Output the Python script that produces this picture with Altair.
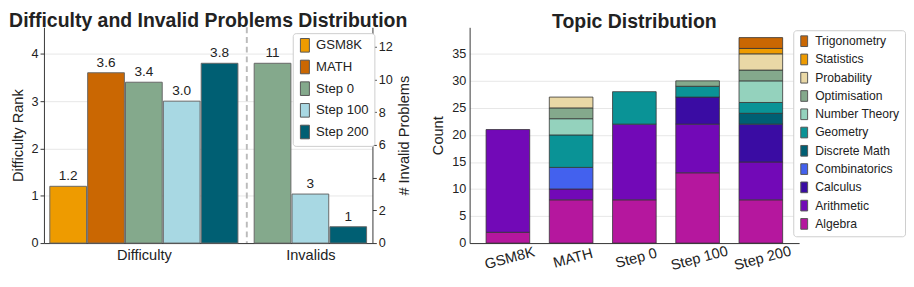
import altair as alt
import pandas as pd

# ---------------- data ----------------
models = ["GSM8K", "MATH", "Step 0", "Step 100", "Step 200"]
model_colors = ["#EE9B00", "#CA6702", "#84A98C", "#A8D8E3", "#005F73"]
difficulty = [1.2, 3.6, 3.4, 3.0, 3.8]
invalid_models = ["Step 0", "Step 100", "Step 200"]
invalid_counts = [11, 3, 1]
group_labels = ["Difficulty", "Invalids"]

topics = ["Algebra", "Arithmetic", "Calculus", "Combinatorics", "Discrete Math",
          "Geometry", "Number Theory", "Optimisation", "Probability",
          "Statistics", "Trigonometry"]
topic_colors = ["#B5179E", "#7209B7", "#3A0CA3", "#4361EE", "#005F73",
                "#0A9396", "#94D2BD", "#84A98C", "#E9D8A6", "#EE9B00", "#CA6702"]
algebra = [2, 8, 8, 13, 8]
arithmetic = [19, 2, 14, 9, 7]
calculus = [0, 0, 0, 5, 7]
combinatorics = [0, 4, 0, 0, 0]
discrete_math = [0, 0, 0, 0, 2]
geometry = [0, 6, 6, 2, 2]
number_theory = [0, 3, 0, 0, 4]
optimisation = [0, 2, 0, 1, 2]
probability = [0, 2, 0, 0, 3]
statistics = [0, 0, 0, 0, 1]
trigonometry = [0, 0, 0, 0, 2]
topic_counts = [algebra, arithmetic, calculus, combinatorics, discrete_math,
                geometry, number_theory, optimisation, probability,
                statistics, trigonometry]

FONT = "Liberation Sans"
TXT = "#222222"

# ---------------- layout (bar-step units) ----------------
INV_CENTER = 4.4
DASH_POS = 2.72
HALF = 0.485
X_DOMAIN = [-2.64, 6.04]

diff_df = pd.DataFrame({"model": models, "value": difficulty,
                        "pos": [i - 2 for i in range(len(models))]})
inv_df = pd.DataFrame({"model": invalid_models, "value": invalid_counts,
                       "pos": [INV_CENTER + i - 1 for i in range(len(invalid_models))]})

xscale = alt.Scale(domain=X_DOMAIN, nice=False, zero=False)
xaxis = alt.Axis(values=[0, INV_CENTER],
                 labelExpr="datum.value < 2 ? 'Difficulty' : 'Invalids'",
                 title=None, grid=False, ticks=False, labelFontSize=15,
                 labelPadding=5, domainColor="#333", labelColor=TXT)

yl_scale = alt.Scale(domain=[0, 4.56], nice=False)
yl_axis = alt.Axis(values=[0, 1, 2, 3, 4], title="Difficulty Rank", orient="left",
                   grid=True, gridColor="#e6e6e6", tickSize=4, labelFontSize=13,
                   titleFontSize=15, titleFontWeight="normal", titlePadding=6)
yr_scale = alt.Scale(domain=[0, 13.2], nice=False)
yr_axis = alt.Axis(values=[0, 2, 4, 6, 8, 10, 12], title="# Invalid Problems",
                   orient="right", grid=False, tickSize=4, labelFontSize=13,
                   titleFontSize=15, titleFontWeight="normal", titleAngle=270,
                   titleBaseline="top", titlePadding=5)

color_models = alt.Color(
    "model:N",
    scale=alt.Scale(domain=models, range=model_colors),
    legend=alt.Legend(orient="none", legendX=256, legendY=6, title=None,
                      fillColor="white", strokeColor="#cccccc", cornerRadius=3,
                      padding=5, labelFontSize=13.5, labelColor=TXT,
                      symbolType="M-0.66,-1H0.66V1H-0.66Z", symbolSize=196,
                      symbolStrokeColor="#555", symbolStrokeWidth=1,
                      rowPadding=3.3, labelOffset=4),
)

base_d = alt.Chart(diff_df).transform_calculate(
    x0=f"datum.pos - {HALF}", x1=f"datum.pos + {HALF}", base="0")
bars_d = base_d.mark_bar(stroke="#666", strokeWidth=1).encode(
    x=alt.X("x0:Q", scale=xscale, axis=xaxis), x2="x1:Q",
    y=alt.Y("value:Q", scale=yl_scale, axis=yl_axis), y2="base:Q",
    color=color_models)
text_d = base_d.mark_text(baseline="bottom", dy=-3, fontSize=14, color=TXT).encode(
    x=alt.X("pos:Q", scale=xscale, axis=xaxis),
    y=alt.Y("value:Q", scale=yl_scale, axis=yl_axis),
    text=alt.Text("value:Q", format=".1f"))

base_i = alt.Chart(inv_df).transform_calculate(
    x0=f"datum.pos - {HALF}", x1=f"datum.pos + {HALF}", base="0")
bars_i = base_i.mark_bar(stroke="#666", strokeWidth=1).encode(
    x=alt.X("x0:Q", scale=xscale, axis=xaxis), x2="x1:Q",
    y=alt.Y("value:Q", scale=yr_scale, axis=yr_axis), y2="base:Q",
    color=color_models)
text_i = base_i.mark_text(baseline="bottom", dy=-3, fontSize=14, color=TXT).encode(
    x=alt.X("pos:Q", scale=xscale, axis=xaxis),
    y=alt.Y("value:Q", scale=yr_scale, axis=yr_axis),
    text=alt.Text("value:Q", format="d"))

rule = alt.Chart(pd.DataFrame({"k": [0]})).mark_rule(
    color="#bbbbbb", strokeWidth=2, strokeDash=[6, 4]).encode(
    x=alt.datum(DASH_POS, scale=xscale, axis=xaxis))

left = alt.layer(rule, alt.layer(bars_d, text_d), alt.layer(bars_i, text_i)).resolve_scale(
    y="independent").properties(
    width=338, height=222,
    title=alt.Title("Difficulty and Invalid Problems Distribution", fontSize=20,
                    fontWeight="bold", color=TXT, anchor="middle", offset=-5, font=FONT))

# ---------------- right chart ----------------
rows = []
for ti, (topic, counts) in enumerate(zip(topics, topic_counts)):
    for m, c in zip(models, counts):
        if c > 0:
            rows.append({"model": m, "topic": topic, "count": c, "order": ti})
topic_df = pd.DataFrame(rows)

right = alt.Chart(topic_df).mark_bar(stroke="#333", strokeWidth=0.8).encode(
    x=alt.X("model:N", sort=models,
            scale=alt.Scale(paddingInner=0.31, paddingOuter=0.26),
            axis=alt.Axis(title=None, labelAngle=-15, labelAlign="center",
                          labelBaseline="top", labelFontSize=15, ticks=False,
                          labelPadding=8, domainColor="#333", labelColor=TXT)),
    y=alt.Y("count:Q", stack="zero", scale=alt.Scale(domain=[0, 39.9], nice=False),
            axis=alt.Axis(values=[0, 5, 10, 15, 20, 25, 30, 35], title="Count",
                          grid=True, gridColor="#e6e6e6", ticks=False,
                          labelFontSize=13, titleFontSize=15,
                          titleFontWeight="normal", labelPadding=4, titlePadding=6)),
    color=alt.Color("topic:N",
                    scale=alt.Scale(domain=topics[::-1], range=topic_colors[::-1]),
                    legend=alt.Legend(orient="none", legendX=333, legendY=3, title=None,
                                      fillColor="white", strokeColor="#cccccc",
                                      cornerRadius=3, padding=5, labelFontSize=12.5,
                                      labelColor=TXT,
                                      symbolType="M-0.64,-1H0.64V1H-0.64Z",
                                      symbolSize=121, symbolStrokeColor="#555",
                                      symbolStrokeWidth=1, rowPadding=2.8, labelOffset=5)),
    order=alt.Order("order:Q", sort="ascending"),
).properties(
    width=339, height=222,
    title=alt.Title("Topic Distribution", fontSize=20, fontWeight="bold", color=TXT,
                    anchor="middle", offset=-5, font=FONT))

chart = alt.hconcat(left, right, spacing=19).resolve_scale(color="independent").properties(
    padding={"left": 0, "top": 0, "right": 0, "bottom": 0}
).configure(font=FONT).configure_axis(
    labelColor=TXT, titleColor=TXT, domainColor="#333", tickColor="#333",
    labelFont=FONT, titleFont=FONT
).configure_view(stroke=None).configure_legend(labelFont=FONT)

chart.save("out.html", embed_options={"renderer": "svg", "actions": False})
